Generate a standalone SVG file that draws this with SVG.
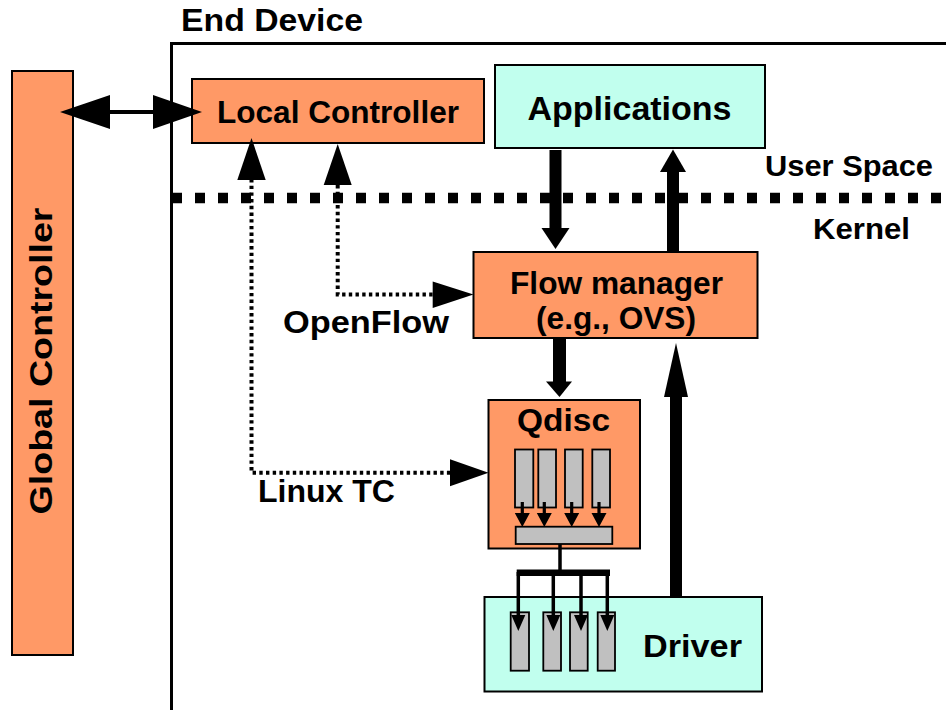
<svg xmlns="http://www.w3.org/2000/svg" xmlns:xlink="http://www.w3.org/1999/xlink" width="946" height="710" viewBox="0 0 946 710">
<style>
  .t { font-family: "Liberation Sans", Arial, sans-serif; font-weight: bold; fill: #000; }
  .or { fill: #FF9966; stroke: #000; stroke-width: 2; }
  .cy { fill: #C1FFEE; stroke: #000; stroke-width: 2; }
  .bar { fill: #C0C0C0; stroke: #000; stroke-width: 1.8; }
  .dot { fill: none; stroke: #000; stroke-width: 4; stroke-dasharray: 3.4 3.3; }
  .ah { fill: #000; stroke: none; }
</style>
<defs>
  <path id="qa" d="M-1.6,0 H1.6 V11 H7.5 L0,25 L-7.5,11 H-1.6 Z"/>
  <path id="da" d="M-7,0 H7 L0,16 Z"/>
</defs>
<rect width="946" height="710" fill="#fff"/>

<g id="end-device">
  <rect x="171.5" y="43.5" width="800" height="700" fill="none" stroke="#000" stroke-width="3"/>
  <text class="t" x="181" y="31" font-size="31" textLength="182" lengthAdjust="spacingAndGlyphs">End Device</text>
</g>

<g id="separator">
  <line x1="172" y1="198" x2="946" y2="198" stroke="#000" stroke-width="10.5" stroke-dasharray="10 13"/>
  <text class="t" x="765" y="176" font-size="30" textLength="168" lengthAdjust="spacingAndGlyphs">User Space</text>
  <text class="t" x="813" y="239" font-size="30" textLength="97" lengthAdjust="spacingAndGlyphs">Kernel</text>
</g>

<g id="global-controller">
  <rect class="or" x="12" y="71" width="61" height="584"/>
  <text class="t" font-size="31" text-anchor="middle" transform="translate(52,361) rotate(-90)" textLength="307" lengthAdjust="spacingAndGlyphs">Global Controller</text>
</g>

<g id="local-controller">
  <rect class="or" x="192" y="79" width="292" height="64"/>
  <text class="t" x="338" y="123" font-size="31" text-anchor="middle" textLength="242" lengthAdjust="spacingAndGlyphs">Local Controller</text>
</g>

<g id="applications">
  <rect class="cy" x="495" y="65" width="270" height="83"/>
  <text class="t" x="629.5" y="120" font-size="34" text-anchor="middle" textLength="204" lengthAdjust="spacingAndGlyphs">Applications</text>
</g>

<g id="flow-manager">
  <rect class="or" x="473.5" y="252" width="284" height="86"/>
  <text class="t" x="616.5" y="294" font-size="31.5" text-anchor="middle" textLength="213" lengthAdjust="spacingAndGlyphs">Flow manager</text>
  <text class="t" x="616" y="329" font-size="31" text-anchor="middle" textLength="160" lengthAdjust="spacingAndGlyphs">(e.g., OVS)</text>
</g>

<g id="qdisc">
  <rect class="or" x="488.5" y="400" width="151.5" height="148.5"/>
  <text class="t" x="563.5" y="431" font-size="31" text-anchor="middle" textLength="93" lengthAdjust="spacingAndGlyphs">Qdisc</text>
  <rect class="bar" x="515" y="449.5" width="18.3" height="58"/>
  <rect class="bar" x="538.3" y="449.5" width="17.7" height="58"/>
  <rect class="bar" x="565" y="449.5" width="17.7" height="58"/>
  <rect class="bar" x="592.3" y="449.5" width="17.7" height="58"/>
  <use xlink:href="#qa" x="522.3" y="502"/>
  <use xlink:href="#qa" x="544.3" y="502"/>
  <use xlink:href="#qa" x="571.7" y="502"/>
  <use xlink:href="#qa" x="599" y="502"/>
  <rect class="bar" x="515.7" y="526.7" width="96.6" height="17.3"/>
</g>

<g id="driver">
  <rect class="cy" x="484.5" y="597" width="277.5" height="94.5"/>
  <text class="t" x="692.5" y="657" font-size="31" text-anchor="middle" textLength="99" lengthAdjust="spacingAndGlyphs">Driver</text>
  <rect class="bar" x="510.7" y="612.3" width="18.3" height="58.4"/>
  <rect class="bar" x="543.3" y="612.3" width="17.7" height="58.4"/>
  <rect class="bar" x="570" y="612.3" width="17.7" height="58.4"/>
  <rect class="bar" x="597.7" y="612.3" width="17.3" height="58.4"/>
</g>

<g id="connectors">
  <!-- Global <-> Local controller -->
  <line x1="105" y1="112" x2="158" y2="112" stroke="#000" stroke-width="4"/>
  <polygon class="ah" points="60,112 110,95 110,129"/>
  <polygon class="ah" points="202,112 153,95 153,129"/>

  <!-- Applications -> Flow manager -->
  <rect class="ah" x="549.5" y="150" width="12" height="79"/>
  <polygon class="ah" points="541.5,228 569.5,228 555.5,249"/>

  <!-- Flow manager -> Applications -->
  <rect class="ah" x="667" y="171" width="12" height="81"/>
  <polygon class="ah" points="660,172 686,172 673,149.5"/>

  <!-- Flow manager -> Qdisc -->
  <rect class="ah" x="553" y="338" width="13" height="44"/>
  <polygon class="ah" points="546,381.5 572,381.5 559.5,397"/>

  <!-- Driver -> Flow manager -->
  <rect class="ah" x="670" y="396" width="12" height="200"/>
  <polygon class="ah" points="664,397 688,397 676,343"/>

  <!-- Qdisc -> Driver queues -->
  <line x1="560" y1="544" x2="560" y2="572" stroke="#000" stroke-width="3.5"/>
  <line x1="516.7" y1="572.7" x2="610" y2="572.7" stroke="#000" stroke-width="6.5"/>
  <g stroke="#000" stroke-width="3.5">
    <line x1="518.3" y1="572" x2="518.3" y2="616"/>
    <line x1="553.3" y1="572" x2="553.3" y2="616"/>
    <line x1="581" y1="572" x2="581" y2="616"/>
    <line x1="607.3" y1="572" x2="607.3" y2="616"/>
  </g>
  <use xlink:href="#da" x="518.3" y="615"/>
  <use xlink:href="#da" x="553.3" y="615"/>
  <use xlink:href="#da" x="581" y="615"/>
  <use xlink:href="#da" x="607.3" y="615"/>

  <!-- OpenFlow -->
  <path class="dot" d="M337.7,185 V294.5 H434"/>
  <polygon class="ah" points="323.7,185 351.7,185 337.7,144"/>
  <polygon class="ah" points="432.7,281.5 432.7,308 473.5,294.5"/>

  <!-- Linux TC -->
  <path class="dot" d="M251.5,179 V472.7 H451"/>
  <polygon class="ah" points="237.3,180 265.7,180 251.5,138"/>
  <polygon class="ah" points="450,459.3 450,486.3 488.5,472.7"/>
</g>

<g id="labels">
  <text class="t" x="283" y="333" font-size="31" textLength="166" lengthAdjust="spacingAndGlyphs">OpenFlow</text>
  <text class="t" x="258" y="502" font-size="31" textLength="137" lengthAdjust="spacingAndGlyphs">Linux TC</text>
</g>
</svg>
